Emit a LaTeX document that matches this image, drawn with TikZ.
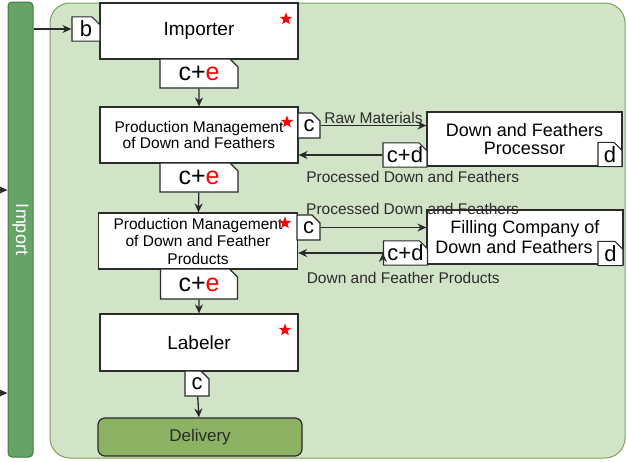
\documentclass[tikz,border=0pt]{standalone}
\usepackage{fontspec}
\setmainfont{Liberation Sans}
\usepackage{xcolor}
\usetikzlibrary{positioning}
\usetikzlibrary{shapes.misc, shapes.geometric}
\usetikzlibrary{arrows.meta}

\definecolor{panelgreen}{HTML}{D2E4C8}
\definecolor{panelline}{HTML}{7FA05A}
\definecolor{bargreen}{HTML}{66A366}
\definecolor{barline}{HTML}{3F7B3F}
\definecolor{delivgreen}{HTML}{8DB264}
\definecolor{inkgray}{HTML}{2B2B2B}

\newcommand{\fsz}[1]{\fontsize{#1}{#1}\selectfont}

\begin{document}
\begin{tikzpicture}[x=1pt, y=-1pt,
		box/.style = {draw=inkgray, fill=white, line width=1.2pt, align=center, inner sep=0pt},
		tag/.style = {chamfered rectangle, chamfered rectangle corners=north east,
			chamfered rectangle xsep=4pt, chamfered rectangle ysep=4pt,
			draw=inkgray, fill=white, line width=1.1pt, inner sep=0pt, font=\fsz{22}},
		redstar/.style = {star, star points=5, star point ratio=2.4, fill=red, inner sep=0pt, minimum size=13pt},
		flow/.style = {-{Stealth[length=9pt,width=8pt]}, line width=1.3pt, draw=inkgray},
		lbl/.style = {font=\fsz{15.5}, inner sep=0pt, text=inkgray}
		]
		\useasboundingbox (0,0) rectangle (627,461);
		
		% background
		\node at (337.5,230.5) (panel) [draw=panelline, fill=panelgreen, line width=1pt, rounded corners=20pt, minimum width=575pt, minimum height=455pt] {};
		\node at (20.5,229.5) (bar) [draw=barline, fill=bargreen, line width=1pt, rounded corners=4pt, rotate=-90, minimum width=455pt, minimum height=25pt, inner sep=0pt, text=white, font=\fsz{18}] {Import};
		
		% main chain
		\node at (199,31) (importer) [box, minimum width=198pt, minimum height=56pt, font=\fsz{19}] {Importer};
		\node at (86,29) (btag) [tag, minimum width=28pt, minimum height=24pt] {b};
		\node at (199,73.5) (ce1) [tag, minimum width=78pt, minimum height=29pt, font=\fsz{25}] {c+\textcolor{red}{e}};
		
		\node at (199,135) (prod1) [box, minimum width=198pt, minimum height=56pt, font=\fsz{15.5}] {Production Management\\[1pt]of Down and Feathers};
		\node at (309,125.5) (ctag1) [tag, minimum width=22pt, minimum height=25pt] {c};
		\node at (199,177.5) (ce2) [tag, minimum width=78pt, minimum height=29pt, font=\fsz{25}] {c+\textcolor{red}{e}};
		
		\node at (198,241) (prod2) [box, minimum width=199pt, minimum height=56pt, font=\fsz{15.5}] {Production Management\\[2pt]of Down and Feather\\[2pt]Products};
		\node at (308.5,227.5) (ctag2) [tag, minimum width=23pt, minimum height=25pt] {c};
		\node at (199,284) (ce3) [tag, minimum width=77pt, minimum height=30pt, font=\fsz{25}] {c+\textcolor{red}{e}};
		
		\node at (199,342.5) (labeler) [box, minimum width=198pt, minimum height=57pt, font=\fsz{19}] {Labeler};
		\node at (197,383.5) (ctag3) [tag, minimum width=24pt, minimum height=25pt] {c};
		\node at (200,437) (delivery) [draw=inkgray, fill=delivgreen, line width=1.2pt, rounded corners=7pt, minimum width=204pt, minimum height=38pt, text=inkgray, font=\fsz{17}] {Delivery};
		
		% side partners
		\node at (524.5,139) (proc) [box, minimum width=195pt, minimum height=54pt, font=\fsz{18}] {Down and Feathers\\Processor};
		\node at (610,154.5) (dtag1) [tag, minimum width=24pt, minimum height=23pt] {d};
		\node at (405,155) (cdtag1) [tag, minimum width=43pt, minimum height=22pt] {c+d};
		
		\node at (525,237) (filler) [box, minimum width=196pt, minimum height=54pt, font=\fsz{18}] {Filling Company of\\[2pt]Down and Feathers\hspace*{22pt}};
		\node at (610.5,253.5) (dtag2) [tag, minimum width=25pt, minimum height=21pt] {d};
		\node at (405.5,253) (cdtag2) [tag, minimum width=43pt, minimum height=22pt] {c+d};
		
		% stars
		\node at (286,19) (star1) [redstar] {};
		\node at (287,122) (star2) [redstar] {};
		\node at (285,223) (star3) [redstar] {};
		\node at (285,330) (star4) [redstar] {};
		
		% arrows coming in from the left
		\coordinate (in1) at (-6,190);
		\coordinate (in2) at (-6,393);
		
		\path [flow]
		(in1) edge (in1 -| bar.south)
		(in2) edge (in2 -| bar.south)
		(btag.west -| bar.north) edge (btag.west)
		
		(ce1) edge (prod1)
		(ce2) edge (prod2)
		(ce3) edge (labeler)
		(ctag3) edge (delivery)
		
		(ctag1.east) edge node[lbl, above, yshift=1pt] {Raw Materials} (ctag1.east -| proc.west)
		(cdtag1.west) edge node[lbl, pos=1, anchor=north west, xshift=7pt, yshift=-16pt] {Processed Down and Feathers} (cdtag1.west -| prod1.east)
		
		(ctag2.east) edge node[lbl, pos=0, anchor=south west, xshift=-15pt, yshift=12pt] {Processed Down and Feathers} (ctag2.east -| filler.west)
		(cdtag2.west) edge node[lbl, pos=1, anchor=north west, xshift=8pt, yshift=-19pt] {Down and Feather Products} (cdtag2.west -| prod2.east);
	\end{tikzpicture}
\end{document}
